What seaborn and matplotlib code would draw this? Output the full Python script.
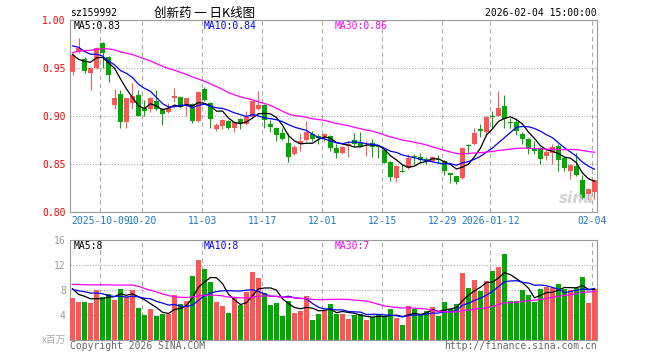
import numpy as np
import pandas as pd
import matplotlib
matplotlib.use('Agg')
import matplotlib.pyplot as plt
import seaborn as sns

# sz159992 daily K-line, 2025-09-24 .. 2026-02-04 (88 sessions)
open_ = [0.946, 0.967, 0.959, 0.945, 0.950, 0.976, 0.961, 0.911, 0.923, 0.894,
         0.914, 0.922, 0.908, 0.907, 0.916, 0.907, 0.904, 0.919, 0.920, 0.910,
         0.913, 0.895, 0.928, 0.914, 0.886, 0.890, 0.895, 0.888, 0.897, 0.892,
         0.899, 0.907, 0.911, 0.892, 0.888, 0.882, 0.872, 0.860, 0.871, 0.875,
         0.881, 0.879, 0.878, 0.879, 0.867, 0.861, 0.869, 0.875, 0.872, 0.869,
         0.872, 0.869, 0.865, 0.852, 0.835, 0.843, 0.846, 0.858, 0.857, 0.855,
         0.853, 0.855, 0.853, 0.841, 0.837, 0.835, 0.870, 0.871, 0.886, 0.883,
         0.900, 0.900, 0.910, 0.894, 0.894, 0.881, 0.876, 0.866, 0.867, 0.858,
         0.861, 0.869, 0.856, 0.843, 0.848, 0.833, 0.819, 0.821]
high = [0.966, 0.981, 0.961, 0.951, 0.972, 0.977, 0.963, 0.928, 0.927, 0.919,
        0.934, 0.927, 0.917, 0.920, 0.927, 0.908, 0.914, 0.929, 0.920, 0.919,
        0.914, 0.926, 0.930, 0.915, 0.893, 0.897, 0.896, 0.893, 0.898, 0.905,
        0.917, 0.926, 0.912, 0.896, 0.889, 0.887, 0.882, 0.870, 0.882, 0.895,
        0.884, 0.881, 0.882, 0.880, 0.871, 0.869, 0.874, 0.882, 0.883, 0.874,
        0.876, 0.870, 0.866, 0.853, 0.849, 0.849, 0.860, 0.860, 0.861, 0.857,
        0.858, 0.859, 0.854, 0.841, 0.838, 0.868, 0.871, 0.888, 0.892, 0.900,
        0.905, 0.926, 0.922, 0.898, 0.898, 0.883, 0.877, 0.874, 0.868, 0.865,
        0.871, 0.871, 0.858, 0.850, 0.861, 0.839, 0.825, 0.834]
low = [0.943, 0.966, 0.945, 0.927, 0.949, 0.950, 0.935, 0.907, 0.888, 0.887,
       0.907, 0.900, 0.900, 0.904, 0.906, 0.891, 0.903, 0.915, 0.909, 0.900,
       0.893, 0.894, 0.916, 0.887, 0.884, 0.886, 0.886, 0.883, 0.886, 0.891,
       0.898, 0.906, 0.888, 0.883, 0.874, 0.875, 0.852, 0.859, 0.864, 0.874,
       0.874, 0.871, 0.874, 0.864, 0.856, 0.860, 0.857, 0.868, 0.868, 0.858,
       0.857, 0.856, 0.851, 0.832, 0.831, 0.842, 0.845, 0.850, 0.851, 0.850,
       0.852, 0.851, 0.839, 0.830, 0.829, 0.834, 0.860, 0.870, 0.878, 0.879,
       0.888, 0.900, 0.887, 0.887, 0.880, 0.871, 0.860, 0.860, 0.850, 0.854,
       0.850, 0.843, 0.843, 0.834, 0.837, 0.814, 0.813, 0.814]
close = [0.964, 0.971, 0.947, 0.950, 0.971, 0.966, 0.943, 0.919, 0.894, 0.919,
         0.921, 0.900, 0.905, 0.919, 0.907, 0.902, 0.908, 0.921, 0.910, 0.919,
         0.895, 0.925, 0.917, 0.897, 0.891, 0.896, 0.888, 0.894, 0.892, 0.899,
         0.916, 0.911, 0.896, 0.889, 0.880, 0.876, 0.857, 0.868, 0.874, 0.883,
         0.876, 0.877, 0.881, 0.867, 0.861, 0.868, 0.871, 0.871, 0.869, 0.870,
         0.868, 0.868, 0.851, 0.836, 0.848, 0.842, 0.856, 0.857, 0.854, 0.854,
         0.857, 0.854, 0.843, 0.839, 0.831, 0.867, 0.869, 0.882, 0.884, 0.899,
         0.899, 0.908, 0.897, 0.893, 0.884, 0.876, 0.866, 0.864, 0.855, 0.863,
         0.868, 0.854, 0.846, 0.849, 0.839, 0.815, 0.824, 0.833]
# volume, x 1,000,000
volume = [6.77, 6.13, 6.13, 5.92, 8.05, 6.88, 7.36, 6.45, 8.16, 6.90,
          8.05, 5.12, 4.00, 4.96, 3.89, 4.21, 4.16, 7.20, 5.76, 6.24,
          10.24, 12.80, 11.36, 9.33, 6.13, 5.49, 4.32, 6.88, 5.55, 7.68,
          10.88, 9.97, 7.52, 5.60, 5.92, 3.89, 6.24, 4.32, 4.64, 7.04,
          3.20, 4.16, 4.59, 5.76, 4.16, 4.16, 3.36, 4.00, 4.16, 3.20,
          3.63, 3.95, 3.84, 4.96, 3.52, 2.40, 5.44, 4.96, 4.16, 4.64,
          5.28, 3.84, 6.08, 4.96, 5.76, 10.72, 8.32, 9.60, 7.84, 9.49,
          11.04, 11.68, 13.76, 6.24, 6.24, 8.00, 7.20, 6.08, 8.16, 8.43,
          8.32, 8.96, 8.16, 8.00, 8.32, 10.08, 5.92, 8.16]

# sessions before the window, only used to seed the moving averages
prev_close = [0.925, 0.930, 0.938, 0.943, 0.949, 0.945, 0.952, 0.958, 0.960, 0.961,
              0.968, 0.975, 0.982, 0.990, 0.985, 0.978, 0.972, 0.980, 0.983, 0.976,
              0.985, 0.991, 0.978, 0.972, 0.984, 0.996, 0.957, 0.955, 0.948]
prev_volume = [6.5, 7.2, 6.8, 7.9, 7.1, 6.9, 7.6, 8.0, 7.3, 7.73,
               11.5, 14.2, 13.8, 12.1, 13.5, 12.4, 12.04, 8.6, 7.4, 7.43,
               8.4, 7.6, 8.2, 7.9, 7.9, 10.63, 7.63, 7.92, 8.05]

tick_idx = [5, 12, 22, 32, 42, 52, 62, 70, 87]
tick_lbl = ['2025-10-09', '10-20', '11-03', '11-17', '12-01', '12-15',
            '12-29', '2026-01-12', '02-04']

RED = '#ff5555'
GREEN = '#00a800'
GRID = '#aaaaaa'
FRAME = '#999999'

plt.rcParams['font.family'] = ['DejaVu Sans Mono', 'Noto Sans CJK SC']

df = pd.DataFrame({'i': np.arange(len(close)), 'open': open_, 'high': high,
                   'low': low, 'close': close, 'vol': volume})
df['dir'] = np.where(df['close'] >= df['open'], 'up', 'down')
full_c = pd.Series(prev_close + close)
full_v = pd.Series(prev_volume + volume)
for w in (5, 10, 30):
    df[f'ma{w}'] = full_c.rolling(w).mean().iloc[len(prev_close):].to_numpy()
    df[f'vma{w}'] = full_v.rolling(w).mean().iloc[len(prev_volume):].to_numpy()

W, H = 660, 360
fig = plt.figure(figsize=(6.6, 3.6), dpi=100)
ax1 = fig.add_axes([70 / W, 148 / H, 527 / W, 192 / H])
ax2 = fig.add_axes([70 / W, 20 / H, 527 / W, 100 / H])

cols = np.where(df['dir'] == 'up', RED, GREEN)

# candles
ax1.vlines(df['i'], df['low'], df['high'], colors=cols, lw=0.75, zorder=3)
body = (df['close'] - df['open']).abs().clip(lower=0.0011)
ax1.bar(df['i'], body, bottom=df[['open', 'close']].min(axis=1),
        width=0.83, color=cols, zorder=4)
sns.lineplot(data=df, x='i', y='ma5', color='black', lw=0.9, ax=ax1, zorder=5)
sns.lineplot(data=df, x='i', y='ma10', color='#0000ff', lw=0.9, ax=ax1, zorder=5)
sns.lineplot(data=df, x='i', y='ma30', color='#ff00ff', lw=0.9, ax=ax1, zorder=5)

# volume
sns.barplot(data=df, x='i', y='vol', hue='dir', palette={'up': RED, 'down': GREEN},
            dodge=False, native_scale=True, width=0.83, saturation=1,
            legend=False, ax=ax2, zorder=3)
sns.lineplot(data=df, x='i', y='vma5', color='black', lw=0.9, ax=ax2, zorder=5)
sns.lineplot(data=df, x='i', y='vma10', color='#0000ff', lw=0.9, ax=ax2, zorder=5)
sns.lineplot(data=df, x='i', y='vma30', color='#ff00ff', lw=0.9, ax=ax2, zorder=5)

vx = [t - 0.35 for t in tick_idx]
for ax in (ax1, ax2):
    ax.set_xlim(-0.4167, 87.417)
    ax.set_xticks(vx)
    ax.set_xlabel('')
    ax.set_ylabel('')
    ax.set_axisbelow(True)
    ax.grid(axis='x', color=GRID, ls=(0, (4, 3)), lw=0.8)
    ax.grid(axis='y', color=GRID, ls=(0, (1, 1.5)), lw=0.8)
    ax.tick_params(length=0, labelsize=7, pad=3)
    for s in ax.spines.values():
        s.set_color(FRAME)
        s.set_linewidth(0.8)

ax1.set_ylim(0.80, 1.00)
ax1.set_yticks([0.80, 0.85, 0.90, 0.95, 1.00])
ax1.set_yticklabels([f'{v:.2f}' for v in [0.80, 0.85, 0.90, 0.95, 1.00]], color='red')
ax1.set_xticklabels(tick_lbl, color='#1a75cf')

ax2.set_ylim(0, 16)
ax2.set_yticks([4, 8, 12, 16])
ax2.set_yticklabels(['4', '8', '12', '16'], color='#999999')
ax2.set_xticklabels([])

def px(x, y):
    return x / W, 1 - y / H

last = df.iloc[-1]
fig.text(*px(74, 26), f"MA5:{last['ma5']:.2f}", color='black', fontsize=7, va='center')
fig.text(*px(204, 26), f"MA10:{last['ma10']:.2f}", color='#0000ff', fontsize=7, va='center')
fig.text(*px(335, 26), f"MA30:{last['ma30']:.2f}", color='#ff00ff', fontsize=7, va='center')
fig.text(*px(74, 246), f"MA5:{int(last['vma5'])}", color='black', fontsize=7, va='center')
fig.text(*px(204, 246), f"MA10:{int(last['vma10'])}", color='#0000ff', fontsize=7, va='center')
fig.text(*px(335, 246), f"MA30:{int(last['vma30'])}", color='#ff00ff', fontsize=7, va='center')

fig.text(*px(70, 13), 'sz159992', color='black', fontsize=7, va='center')
fig.text(*px(205, 13), '创新药 一 日K线图', color='black', fontsize=9, va='center',
         ha='center', family=['Noto Sans CJK SC', 'DejaVu Sans'])
fig.text(*px(597, 13), '2026-02-04 15:00:00', color='black', fontsize=7,
         va='center', ha='right')
fig.text(*px(66, 340), 'x百万', color='#aaaaaa', fontsize=7, va='center', ha='right',
         family=['Noto Sans CJK SC', 'DejaVu Sans'])
fig.text(*px(70, 346), 'Copyright 2026 SINA.COM', color='#666666', fontsize=7, va='center')
fig.text(*px(597, 346), 'http://finance.sina.com.cn', color='#666666', fontsize=7,
         va='center', ha='right')

# faint watermark
fig.text(*px(594, 198), 'sina', color='#c8c8c8', fontsize=11, va='center', ha='right',
         fontweight='bold', fontstyle='italic', family='DejaVu Sans', alpha=0.8)

fig.savefig('out.png', dpi=100)
